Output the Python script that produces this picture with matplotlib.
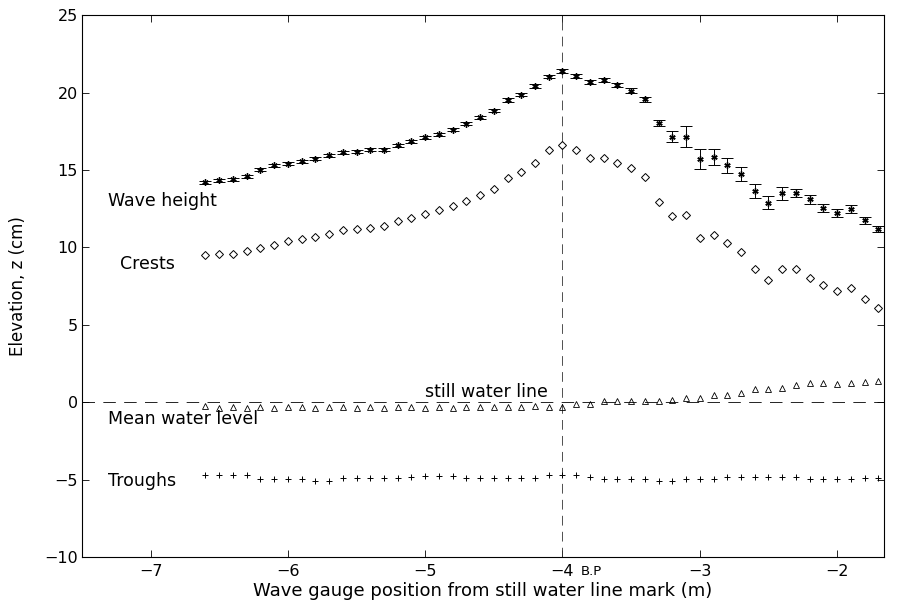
import matplotlib
matplotlib.use("Agg")
import matplotlib.pyplot as plt
import numpy as np

plt.rcParams["font.family"] = ["DejaVu Sans"]
plt.rcParams["lines.scale_dashes"] = False

# gauge positions (m), every 0.1 m from -6.6 to -1.7
position = np.round(np.arange(-6.6, -1.65, 0.1), 1)

wave_height = [
    14.21, 14.32, 14.39, 14.58, 15.01, 15.29, 15.40, 15.55, 15.72, 15.94,
    16.15, 16.19, 16.30, 16.32, 16.60, 16.86, 17.12, 17.29, 17.61, 18.00,
    18.39, 18.84, 19.53, 19.87, 20.41, 21.03, 21.40, 21.05, 20.66, 20.82,
    20.50, 20.13, 19.57, 18.05, 17.16, 17.16, 15.68, 15.83, 15.29, 14.71,
    13.63, 12.88, 13.50, 13.50, 13.10, 12.54, 12.21, 12.49, 11.74, 11.16,
]
wave_height_err = [
    0.10, 0.10, 0.10, 0.10, 0.10, 0.10, 0.10, 0.10, 0.10, 0.10,
    0.10, 0.10, 0.10, 0.10, 0.10, 0.10, 0.10, 0.10, 0.10, 0.10,
    0.12, 0.12, 0.12, 0.12, 0.12, 0.12, 0.12, 0.12, 0.12, 0.12,
    0.14, 0.14, 0.15, 0.18, 0.35, 0.65, 0.65, 0.53, 0.46, 0.45,
    0.43, 0.43, 0.43, 0.27, 0.30, 0.28, 0.24, 0.24, 0.25, 0.20,
]
crests = [
    9.48, 9.55, 9.60, 9.76, 9.98, 10.13, 10.39, 10.56, 10.67, 10.84,
    11.10, 11.16, 11.27, 11.38, 11.70, 11.89, 12.13, 12.39, 12.67, 12.99,
    13.40, 13.79, 14.47, 14.86, 15.46, 16.26, 16.58, 16.26, 15.78, 15.78,
    15.44, 15.12, 14.52, 12.92, 12.02, 12.06, 10.62, 10.77, 10.28, 9.70,
    8.62, 7.87, 8.58, 8.58, 8.04, 7.55, 7.16, 7.40, 6.69, 6.11,
]
mean_level = [
    -0.25, -0.35, -0.30, -0.35, -0.30, -0.35, -0.30, -0.30, -0.35, -0.30,
    -0.30, -0.35, -0.30, -0.35, -0.30, -0.30, -0.35, -0.30, -0.35, -0.30,
    -0.30, -0.30, -0.30, -0.30, -0.25, -0.30, -0.30, -0.15, -0.10, 0.10,
    0.10, 0.05, 0.05, 0.05, 0.15, 0.25, 0.25, 0.45, 0.45, 0.60,
    0.85, 0.85, 0.90, 1.10, 1.25, 1.25, 1.20, 1.25, 1.30, 1.35,
]
troughs = [
    -4.72, -4.72, -4.72, -4.72, -4.99, -4.99, -4.99, -4.99, -5.08, -5.08,
    -4.92, -4.90, -4.90, -4.88, -4.88, -4.86, -4.80, -4.77, -4.77, -4.93,
    -4.93, -4.93, -4.93, -4.93, -4.93, -4.72, -4.72, -4.74, -4.82, -4.99,
    -4.99, -4.99, -4.99, -5.08, -5.08, -4.99, -4.97, -4.95, -4.86, -4.86,
    -4.86, -4.86, -4.82, -4.82, -4.95, -4.95, -4.95, -4.95, -4.93, -4.93,
]

fig = plt.figure(figsize=(9, 6.06), dpi=100)
ax = fig.add_axes([0.091, 0.081, 0.891, 0.894])

# reference lines
ax.axhline(0, color="black", lw=0.6, dashes=(9, 6))
ax.axvline(-4, color="#333333", lw=0.6, dashes=(7, 4.5))

ax.errorbar(position, wave_height, yerr=wave_height_err, fmt="none",
            ecolor="black", elinewidth=0.7, capsize=4.5, capthick=0.7)
ax.plot(position, wave_height, ls="none", marker=(6, 2, 0), ms=4.5,
        mec="black", mew=1.0)
ax.plot(position, crests, ls="none", marker="D", ms=4, mfc="none",
        mec="black", mew=0.7)
ax.plot(position, mean_level, ls="none", marker="^", ms=5, mfc="none",
        mec="black", mew=0.6)
ax.plot(position, troughs, ls="none", marker="+", ms=4.5, mec="black",
        mew=0.7)

fs = 12.5
ax.text(-7.31, 13.0, "Wave height", fontsize=fs, va="center")
ax.text(-7.22, 8.9, "Crests", fontsize=fs, va="center")
ax.text(-5.0, 0.68, "still water line", fontsize=fs, va="center")
ax.text(-7.31, -1.1, "Mean water level", fontsize=fs, va="center")
ax.text(-7.31, -5.1, "Troughs", fontsize=fs, va="center")
ax.text(-3.87, -10.95, "B.P", fontsize=9.5, va="center", clip_on=False)

ax.set_xlim(-7.5, -1.66)
ax.set_ylim(-10, 25)
ax.set_xticks([-7, -6, -5, -4, -3, -2])
ax.set_yticks([-10, -5, 0, 5, 10, 15, 20, 25])
ax.set_xticklabels(["\u22127", "\u22126", "\u22125", "\u22124", "\u22123", "\u22122"])
ax.set_yticklabels(["\u221210", "\u22125", "0", "5", "10", "15", "20", "25"])
ax.tick_params(direction="in", length=5, width=0.6, labelsize=11.5,
               top=True, right=True)
ax.tick_params(axis="x", pad=5)
ax.tick_params(axis="y", pad=3)
for s in ax.spines.values():
    s.set_linewidth(0.8)

ax.set_xlabel("Wave gauge position from still water line mark (m)",
              fontsize=13, labelpad=2.5)
ax.set_ylabel("Elevation, z (cm)", fontsize=12, labelpad=12)

fig.savefig("out.png", dpi=100)
